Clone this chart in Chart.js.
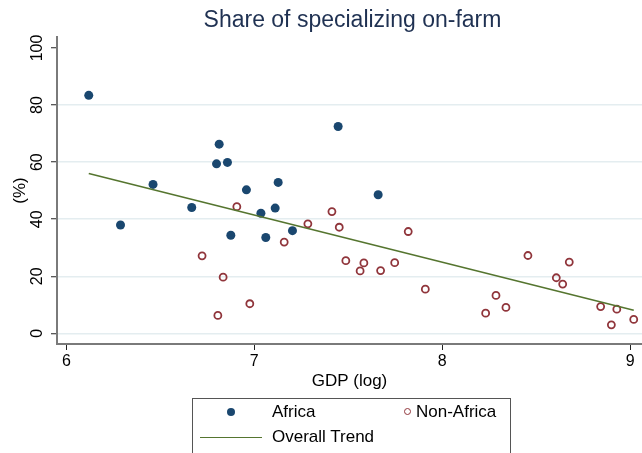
<!DOCTYPE html>
<html>
<head>
<meta charset="utf-8">
<script src="https://cdn.jsdelivr.net/npm/chart.js@4.4.1/dist/chart.umd.min.js"></script>
<style>
  html, body { margin: 0; padding: 0; background: #fff; overflow: hidden; }
  #wrap { position: relative; width: 642px; height: 453px; }
  #chart { position: absolute; left: 0; top: 0; }
  .legend { position: absolute; left: 192px; top: 398px; width: 317px; height: 80px;
            border: 1px solid #555; font: 17px "Liberation Sans", Arial, sans-serif; color: #000; }
  .legend .txt { position: absolute; height: 20px; line-height: 20px; white-space: nowrap; }
  .legend .dot { position: absolute; width: 8px; height: 8px; border-radius: 50%; background: #1a476f; }
  .legend .ring { position: absolute; width: 5px; height: 5px; border-radius: 50%; border: 1.8px solid #90353b; }
  .legend .line { position: absolute; height: 0; border-top: 1.6px solid #55752f; }
</style>
</head>
<body>
<div id="wrap">
  <canvas id="chart" width="642" height="453"></canvas>
  <div class="legend">
    <span class="dot" style="left:34px;top:9px"></span>
    <span class="txt" style="left:79px;top:3px">Africa</span>
    <span class="ring" style="left:211px;top:9px"></span>
    <span class="txt" style="left:223px;top:3px">Non-Africa</span>
    <span class="line" style="left:7px;top:38px;width:62px"></span>
    <span class="txt" style="left:79px;top:28px">Overall Trend</span>
  </div>
</div>
<script>
const FONT = '"Liberation Sans", Arial, sans-serif';

// GDP (log) and share (%)
const africaX = [6.119, 6.288, 6.461, 6.667, 6.799, 6.813, 6.857, 6.875, 6.958, 7.035, 7.061, 7.111, 7.127, 7.203, 7.446, 7.659];
const africaY = [83.4, 38.0, 52.2, 44.1, 59.4, 66.3, 59.9, 34.4, 50.3, 42.1, 33.6, 43.9, 52.9, 36.0, 72.5, 48.6];

const nonAfricaX = [6.722, 6.806, 6.834, 6.907, 6.976, 7.159, 7.285, 7.413, 7.452, 7.487, 7.563, 7.583, 7.672, 7.747,
                    7.819, 7.910, 8.231, 8.286, 8.339, 8.456, 8.607, 8.641, 8.676, 8.843, 8.900, 8.929, 9.019];
const nonAfricaY = [27.2, 6.3, 19.7, 44.4, 10.4, 32.0, 38.4, 42.7, 37.2, 25.5, 21.9, 24.7, 22.0, 24.8,
                    35.7, 15.5, 7.1, 13.3, 9.1, 27.3, 19.5, 17.3, 25.0, 9.4, 3.0, 8.5, 4.9];

const trendX = [6.119, 9.019];
const trendY = [56.0, 8.1];

const xTicks = [6, 7, 8, 9];
const yTicks = [0, 20, 40, 60, 80, 100];

const pts = (xs, ys) => xs.map((x, i) => ({ x, y: ys[i] }));

// y tick labels in Stata run bottom-to-top, Chart.js won't rotate them on a vertical axis
const rotatedYTicks = {
  id: 'rotatedYTicks',
  afterDraw(chart) {
    const s = chart.scales.y, c = chart.ctx;
    c.save();
    c.font = '16px ' + FONT;
    c.fillStyle = '#000';
    c.textAlign = 'center';
    c.textBaseline = 'middle';
    s.ticks.forEach(t => {
      c.save();
      c.translate(38, s.getPixelForValue(t.value));
      c.rotate(-Math.PI / 2);
      c.fillText(String(t.value), 0, 0);
      c.restore();
    });
    c.restore();
  }
};

const topTitle = {
  id: 'topTitle',
  afterDraw(chart) {
    const a = chart.chartArea, c = chart.ctx;
    c.save();
    c.font = '23px ' + FONT;
    c.fillStyle = '#1f3152';
    c.textAlign = 'center';
    c.textBaseline = 'alphabetic';
    c.fillText('Share of specializing on-farm', (a.left + a.right) / 2 + 3, 27);
    c.restore();
  }
};

new Chart(document.getElementById('chart'), {
  type: 'scatter',
  data: {
    datasets: [
      { label: 'Overall Trend', data: pts(trendX, trendY), showLine: true, borderColor: '#55752f',
        borderWidth: 1.6, pointRadius: 0, fill: false },
      { label: 'Africa', data: pts(africaX, africaY), backgroundColor: '#1a476f', borderColor: '#1a476f',
        pointRadius: 4.5, borderWidth: 0 },
      { label: 'Non-Africa', data: pts(nonAfricaX, nonAfricaY), backgroundColor: 'rgba(0,0,0,0)',
        borderColor: '#90353b', pointRadius: 3.5, borderWidth: 1.8 }
    ]
  },
  options: {
    responsive: false,
    animation: false,
    layout: { autoPadding: false, padding: { top: 37, left: 0, right: 0, bottom: 59 } },
    plugins: { legend: { display: false }, tooltip: { enabled: false }, title: { display: false } },
    scales: {
      x: {
        type: 'linear', min: 5.95, max: 9.063,
        afterBuildTicks: s => { s.ticks = xTicks.map(v => ({ value: v })); },
        afterFit: s => { s.height = 50; s.paddingLeft = 0; s.paddingRight = 0; },
        grid: { drawOnChartArea: false, drawTicks: true, tickLength: 6, tickColor: '#222', tickWidth: 1 },
        border: { color: '#7a7a7a', width: 2 },
        ticks: { font: { family: FONT, size: 16 }, color: '#000', padding: 2, maxRotation: 0 },
        title: { display: true, text: 'GDP (log)', font: { family: FONT, size: 17 }, color: '#000',
                 padding: { top: 0, bottom: 2 } }
      },
      y: {
        type: 'linear', min: -3.71, max: 103.85,
        afterBuildTicks: s => { s.ticks = yTicks.map(v => ({ value: v })); },
        afterFit: s => { s.width = 57; s.paddingTop = 0; s.paddingBottom = 0; },
        grid: { color: c => (c.tick && c.tick.value === 100) ? 'rgba(0,0,0,0)' : '#e4edf0',
                lineWidth: 1.5, drawTicks: true, tickLength: 6, tickColor: '#222', tickWidth: 1 },
        border: { color: '#7a7a7a', width: 2 },
        ticks: { color: 'rgba(0,0,0,0)', font: { family: FONT, size: 16 } },
        title: { display: true, text: '(%)', font: { family: FONT, size: 17 }, color: '#000',
                 padding: { top: 10, bottom: 0 } }
      }
    }
  },
  plugins: [rotatedYTicks, topTitle]
});
</script>
</body>
</html>
